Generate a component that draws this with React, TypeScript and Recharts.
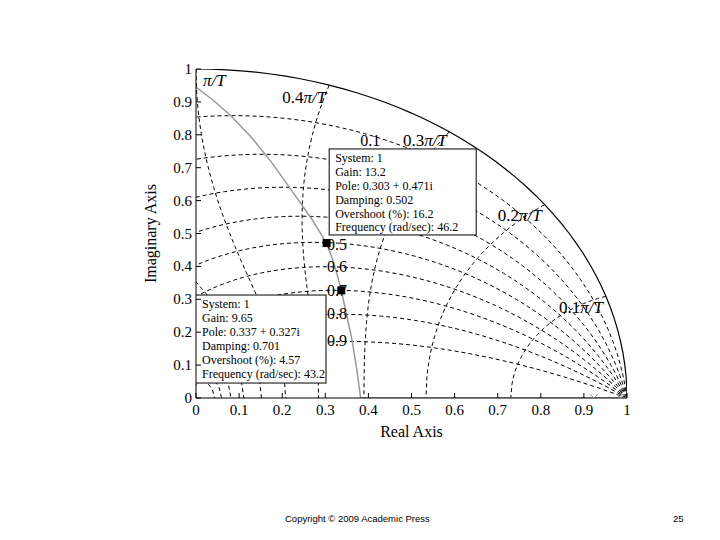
import React from "react";
import { ComposedChart, Line, Scatter, XAxis, YAxis, Label } from "recharts";

const SERIF = "'Liberation Serif', 'DejaVu Serif', serif";
const SANS = "'Liberation Sans', Arial, sans-serif";

// axis ticks (both axes run 0..1)
const AXIS_TICKS = [0, 0.1, 0.2, 0.3, 0.4, 0.5, 0.6, 0.7, 0.8, 0.9, 1];

// zgrid: damping ratios and natural frequencies (multiples of pi/T)
const DAMPING_RATIOS = [0.1, 0.2, 0.3, 0.4, 0.5, 0.6, 0.7, 0.8, 0.9];
const NATURAL_FREQS = [0.1, 0.2, 0.3, 0.4, 0.5, 0.6, 0.7, 0.8, 0.9, 1];

// root locus branch
const LOCUS_X = [0, 0.04, 0.079, 0.13, 0.175, 0.225, 0.27, 0.287, 0.303, 0.313, 0.322, 0.33, 0.337, 0.35, 0.362, 0.373, 0.382];
const LOCUS_Y = [0.945, 0.905, 0.86, 0.79, 0.717, 0.625, 0.541, 0.505, 0.471, 0.435, 0.4, 0.363, 0.327, 0.25, 0.176, 0.088, 0];
const REAL_LOCUS_X = [0.382, 1];
const POLES_X = [0.923, 0.985];
const ZEROS_X = [0.99];

// data tips
const TIP_POINTS_X = [0.303, 0.337];
const TIP_POINTS_Y = [0.471, 0.327];
const TIP1_LINES = [
  "System: 1",
  "Gain: 13.2",
  "Pole: 0.303 + 0.471i",
  "Damping: 0.502",
  "Overshoot (%): 16.2",
  "Frequency (rad/sec): 46.2",
];
const TIP2_LINES = [
  "System: 1",
  "Gain: 9.65",
  "Pole: 0.337 + 0.327i",
  "Damping: 0.701",
  "Overshoot (%): 4.57",
  "Frequency (rad/sec): 43.2",
];

// grid labels
const FREQ_LABEL_PREFIX = ["", "0.4", "0.3", "0.2", "0.1"];
const FREQ_LABEL_X = [0.016, 0.2, 0.48, 0.7, 0.842];
const FREQ_LABEL_Y = [0.948, 0.897, 0.766, 0.538, 0.258];
const DAMP_LABELS = ["0.1", "0.5", "0.6", "0.7", "0.8", "0.9"];
const DAMP_LABEL_X = [0.381, 0.304, 0.304, 0.304, 0.304, 0.304];
const DAMP_LABEL_Y = [0.767, 0.45, 0.383, 0.31, 0.24, 0.158];

type Pt = { x: number; y: number };

// constant damping line of the z-plane grid
function dampingCurve(zeta: number): Pt[] {
  const k = zeta / Math.sqrt(1 - zeta * zeta);
  const pts: Pt[] = [];
  for (let i = 0; i <= 90; i++) {
    const th = (Math.PI * i) / 90;
    const r = Math.exp(-k * th);
    pts.push({ x: r * Math.cos(th), y: r * Math.sin(th) });
  }
  return pts;
}

// constant natural frequency line of the z-plane grid
function freqCurve(w: number): Pt[] {
  const wt = w * Math.PI;
  const pts: Pt[] = [];
  for (let i = 0; i <= 60; i++) {
    const z = i / 60;
    const r = Math.exp(-wt * z);
    const th = wt * Math.sqrt(1 - z * z);
    pts.push({ x: r * Math.cos(th), y: r * Math.sin(th) });
  }
  return pts;
}

const unitCircle = dampingCurve(0);
const locus = LOCUS_X.map((x, i) => ({ x, y: LOCUS_Y[i] }));
const realLocus = REAL_LOCUS_X.map((x) => ({ x, y: 0 }));
const poles = POLES_X.map((x) => ({ x, y: 0 }));
const zeros = ZEROS_X.map((x) => ({ x, y: 0 }));
const tipPoints = TIP_POINTS_X.map((x, i) => ({ x, y: TIP_POINTS_Y[i] }));
const freqLabels = FREQ_LABEL_PREFIX.map((p, i) => ({ x: FREQ_LABEL_X[i], y: FREQ_LABEL_Y[i], p }));
const dampLabels = DAMP_LABELS.map((t, i) => ({ x: DAMP_LABEL_X[i], y: DAMP_LABEL_Y[i], t }));
const tips = [
  { x: 0.309, y: 0.757, lines: TIP1_LINES, w: 147, h: 86 },
  { x: 0, y: 0.313, lines: TIP2_LINES, w: 130, h: 88 },
];

const BottomTick = ({ x, y, payload }: any) => (
  <g>
    <line x1={x} x2={x} y1={y} y2={y - 5} stroke="#000" />
    <text x={x} y={y + 17} textAnchor="middle" fontSize={15} fontFamily={SERIF} fill="#000">
      {payload.value}
    </text>
  </g>
);
const LeftTick = ({ x, y, payload }: any) => (
  <g>
    <line x1={x} x2={x + 5} y1={y} y2={y} stroke="#000" />
    <text x={x - 4} y={y + 5} textAnchor="end" fontSize={15} fontFamily={SERIF} fill="#000">
      {payload.value}
    </text>
  </g>
);
const TopTick = ({ x, y }: any) => <line x1={x} x2={x} y1={y} y2={y + 5} stroke="#000" />;
const RightTick = ({ x, y }: any) => <line x1={x} x2={x - 5} y1={y} y2={y} stroke="#000" />;

const FreqLabel = ({ cx, cy, payload }: any) => (
  <text x={cx} y={cy} fontSize={17} fontFamily={SERIF} fill="#000">
    {payload.p}
    <tspan fontStyle="italic">π/T</tspan>
  </text>
);
const DampLabel = ({ cx, cy, payload }: any) => (
  <text x={cx} y={cy} fontSize={16} fontFamily={SERIF} fill="#000">
    {payload.t}
  </text>
);
const TipBox = ({ cx, cy, payload }: any) => (
  <g>
    <rect x={cx} y={cy} width={payload.w} height={payload.h} fill="#fff" stroke="#000" strokeWidth={1} />
    {payload.lines.map((l: string, i: number) => (
      <text key={i} x={cx + 6} y={cy + 13 + i * 13.9} fontSize={12} fontFamily={SERIF} fill="#000">
        {l}
      </text>
    ))}
  </g>
);
const SquareMark = ({ cx, cy }: any) => <rect x={cx - 4} y={cy - 4} width={8} height={8} fill="#000" />;
const PoleMark = ({ cx, cy }: any) => (
  <g stroke="#888" strokeWidth={1}>
    <line x1={cx - 4} x2={cx + 4} y1={cy - 4} y2={cy + 4} />
    <line x1={cx - 4} x2={cx + 4} y1={cy + 4} y2={cy - 4} />
  </g>
);
const ZeroMark = ({ cx, cy }: any) => <circle cx={cx} cy={cy} r={3.5} fill="none" stroke="#888" strokeWidth={1} />;

export default function App() {
  return (
    <div style={{ position: "absolute", left: 0, top: 0, width: 720, height: 540, background: "#fff" }}>
      <ComposedChart width={720} height={540} margin={{ top: 69, right: 93, bottom: 97, left: 156 }}>
        <XAxis
          xAxisId={0}
          type="number"
          dataKey="x"
          domain={[0, 1]}
          ticks={AXIS_TICKS}
          interval={0}
          allowDataOverflow
          height={45}
          tickSize={0}
          tickMargin={0}
          tickLine={false}
          tick={<BottomTick />}
          axisLine={{ stroke: "#000" }}
        >
          <Label value="Real Axis" position="insideBottom" offset={6} fontSize={16} fontFamily={SERIF} fill="#000" />
        </XAxis>
        <XAxis
          xAxisId="top"
          orientation="top"
          type="number"
          dataKey="x"
          domain={[0, 1]}
          ticks={AXIS_TICKS}
          interval={0}
          height={0}
          tickSize={0}
          tickMargin={0}
          tickLine={false}
          tick={<TopTick />}
          axisLine={{ stroke: "#000" }}
        />
        <YAxis
          yAxisId={0}
          type="number"
          dataKey="y"
          domain={[0, 1]}
          ticks={AXIS_TICKS}
          interval={0}
          allowDataOverflow
          width={40}
          tickSize={0}
          tickMargin={0}
          tickLine={false}
          tick={<LeftTick />}
          axisLine={{ stroke: "#000" }}
        >
          <Label
            value="Imaginary Axis"
            angle={-90}
            position="insideLeft"
            offset={-6}
            fontSize={16}
            fontFamily={SERIF}
            fill="#000"
            style={{ textAnchor: "middle" }}
          />
        </YAxis>
        <YAxis
          yAxisId="right"
          orientation="right"
          type="number"
          dataKey="y"
          domain={[0, 1]}
          ticks={AXIS_TICKS}
          interval={0}
          width={0}
          tickSize={0}
          tickMargin={0}
          tickLine={false}
          tick={<RightTick />}
          axisLine={{ stroke: "#000" }}
        />

        {DAMPING_RATIOS.map((z) => (
          <Line
            key={"d" + z}
            data={dampingCurve(z)}
            dataKey="y"
            stroke="#000"
            strokeWidth={1}
            strokeDasharray="4 3"
            dot={false}
            activeDot={false}
            isAnimationActive={false}
          />
        ))}
        {NATURAL_FREQS.map((w) => (
          <Line
            key={"w" + w}
            data={freqCurve(w)}
            dataKey="y"
            stroke="#000"
            strokeWidth={1}
            strokeDasharray="4 3"
            dot={false}
            activeDot={false}
            isAnimationActive={false}
          />
        ))}
        <Line data={unitCircle} dataKey="y" stroke="#000" strokeWidth={1.2} dot={false} activeDot={false} isAnimationActive={false} />
        <Line data={locus} dataKey="y" stroke="#999" strokeWidth={1.5} dot={false} activeDot={false} isAnimationActive={false} />
        <Line data={realLocus} dataKey="y" stroke="#999" strokeWidth={1.5} dot={false} activeDot={false} isAnimationActive={false} />

        <Scatter data={freqLabels} dataKey="y" shape={<FreqLabel />} isAnimationActive={false} />
        <Scatter data={dampLabels} dataKey="y" shape={<DampLabel />} isAnimationActive={false} />
        <Scatter data={tips} dataKey="y" shape={<TipBox />} isAnimationActive={false} />
        <Scatter data={tipPoints} dataKey="y" shape={<SquareMark />} isAnimationActive={false} />
        <Scatter data={poles} dataKey="y" shape={<PoleMark />} isAnimationActive={false} />
        <Scatter data={zeros} dataKey="y" shape={<ZeroMark />} isAnimationActive={false} />
      </ComposedChart>
      <div
        style={{
          position: "absolute",
          left: 0,
          width: 720,
          top: 513,
          fontFamily: SANS,
          fontSize: 9.5,
          color: "#000",
        }}
      >
        <span style={{ position: "absolute", left: 285 }}>Copyright © 2009 Academic Press</span>
        <span style={{ position: "absolute", left: 673 }}>25</span>
      </div>
    </div>
  );
}
